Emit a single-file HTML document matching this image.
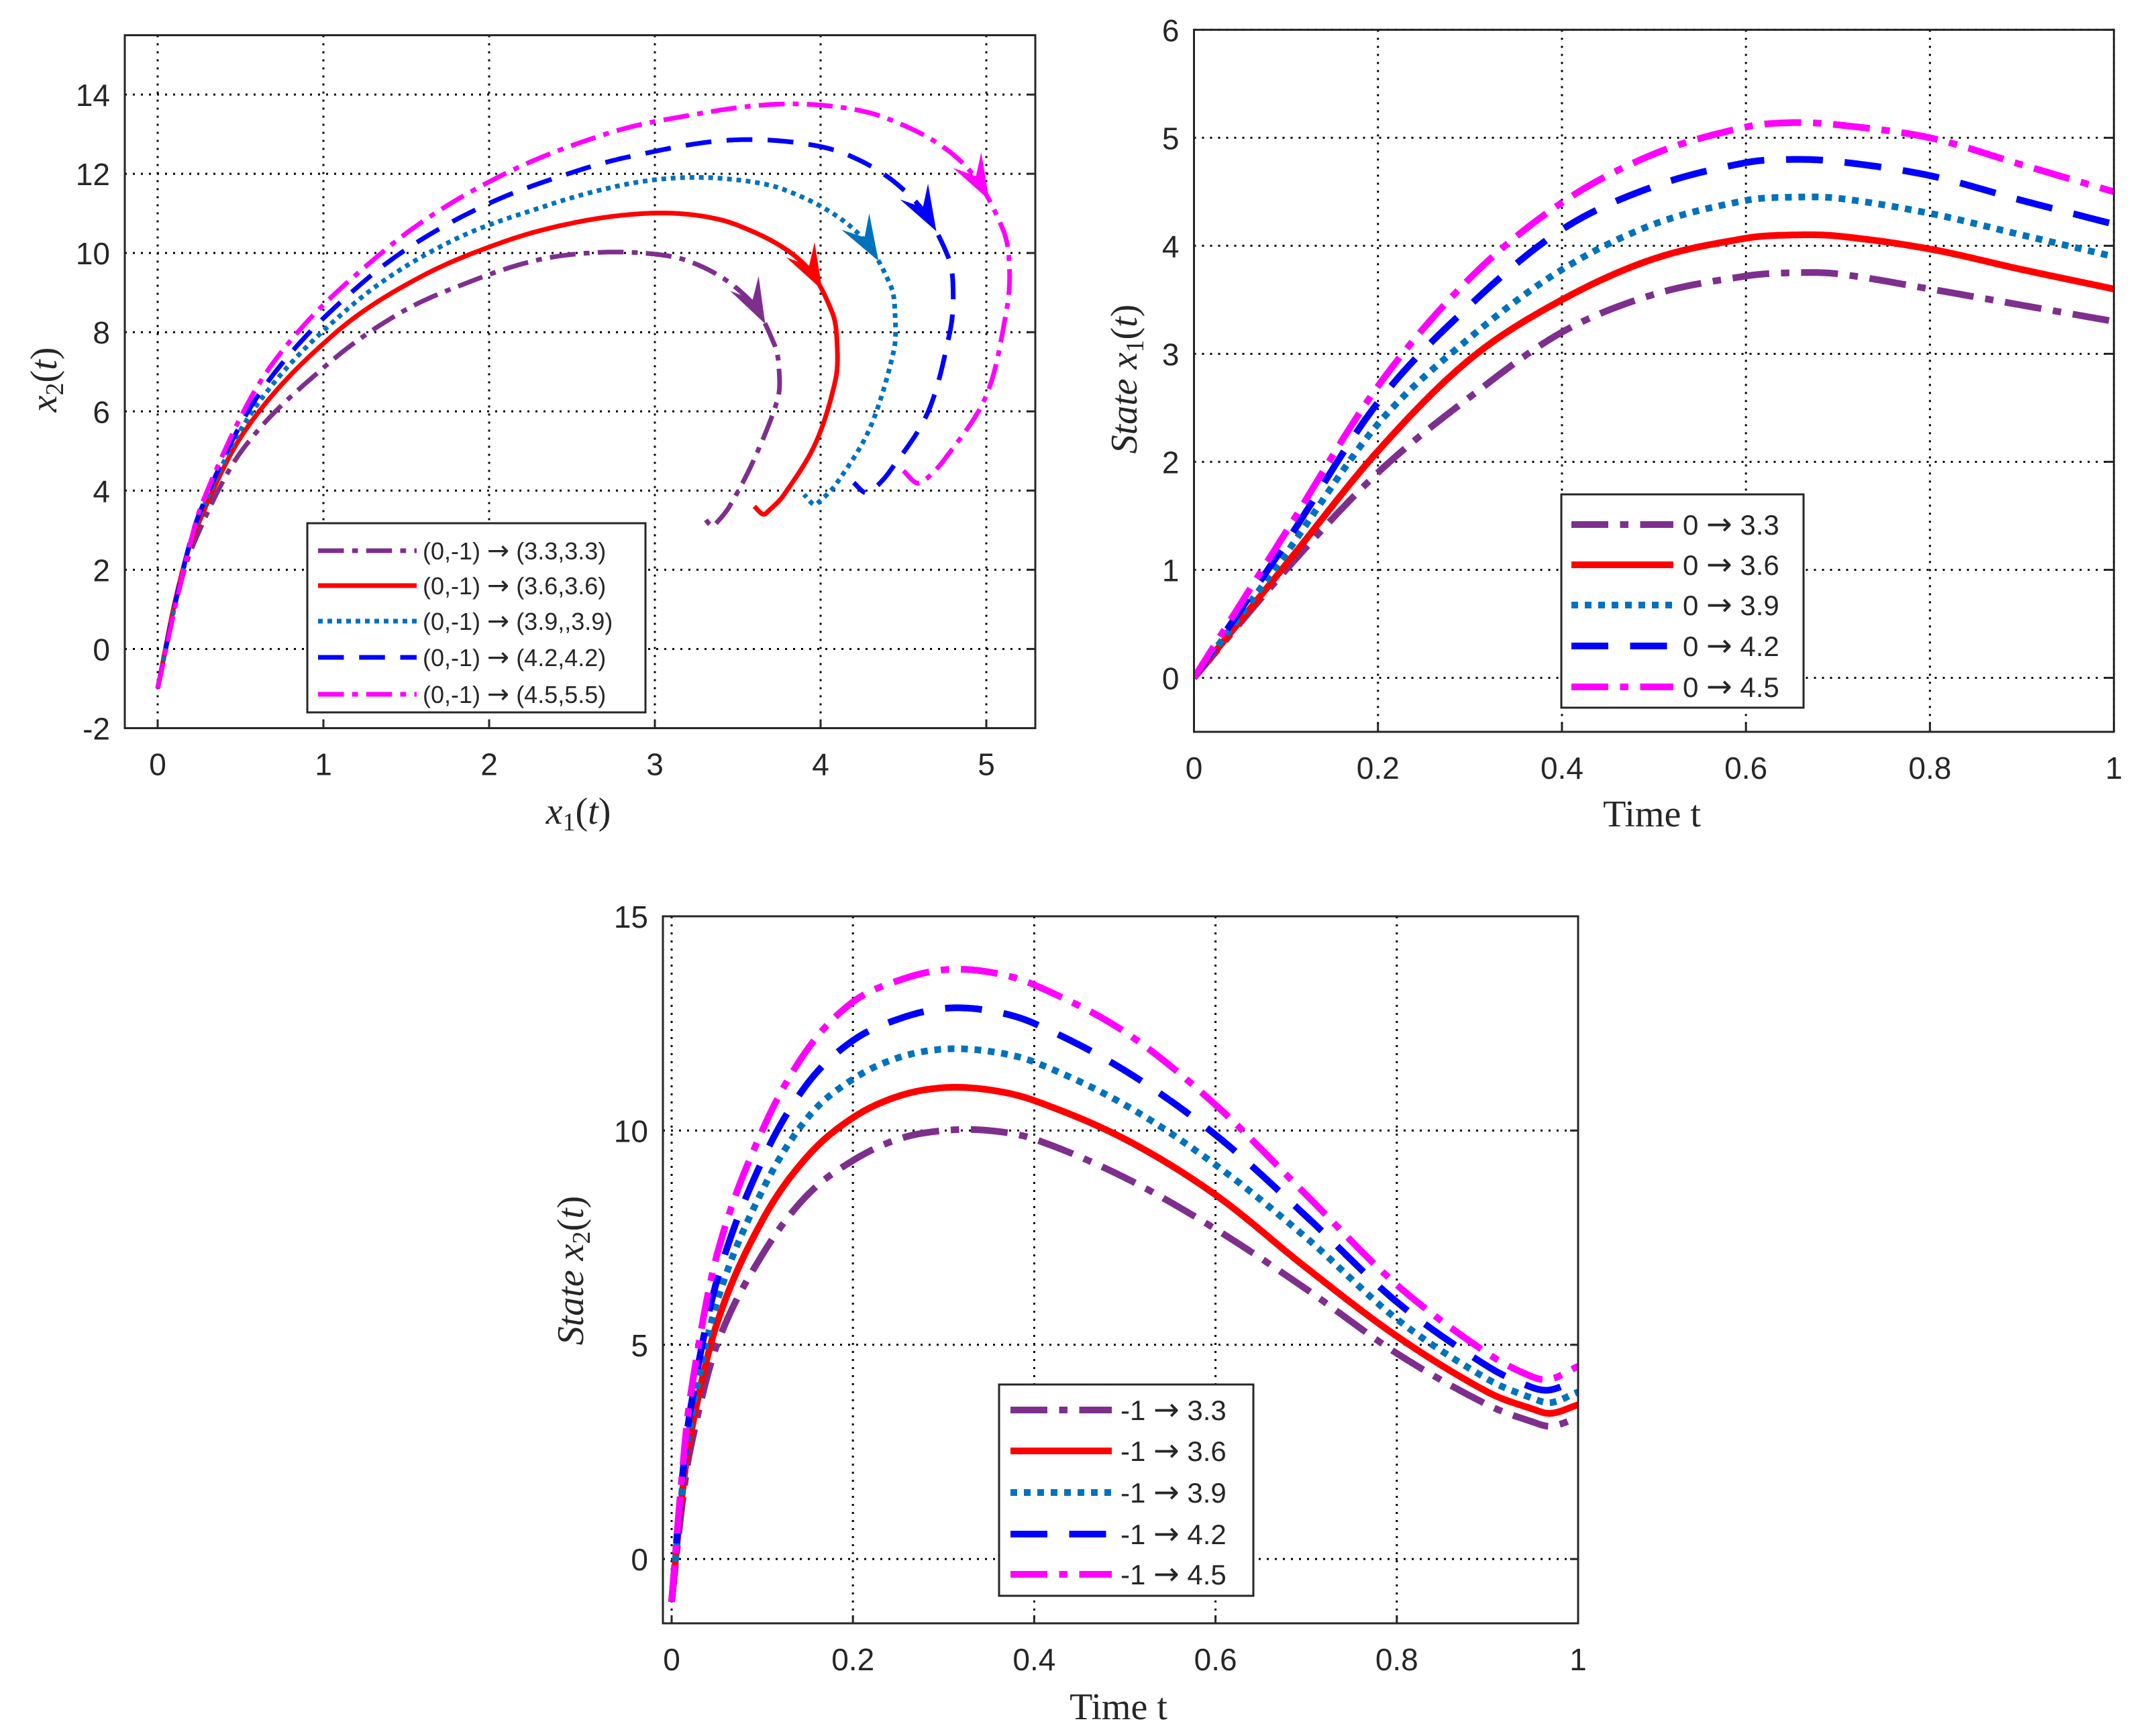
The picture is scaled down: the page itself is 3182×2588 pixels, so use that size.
<!DOCTYPE html>
<html><head><meta charset="utf-8">
<style>
html,body{margin:0;padding:0;background:#fff;}
svg{display:block;}
text{font-family:"Liberation Sans",Arial,sans-serif;fill:#262626;}
.lab{font-family:"Liberation Serif","DejaVu Serif",serif;fill:#262626;}
.arr{font-family:"DejaVu Sans",sans-serif;}
</style></head>
<body>
<svg id="fig" xmlns="http://www.w3.org/2000/svg" width="3182" height="2588" viewBox="0 0 3182 2588"></svg>
<script>
// ---- data ----
const tA = [0,0.1,0.2,0.3,0.4,0.5,0.6,0.65,0.7,0.8,0.9,1];
const x1_33 = [0,1.0,1.9,2.6,3.2,3.55,3.72,3.75,3.74,3.6,3.45,3.3];
const x1_36 = [0,1.05,2.1,2.95,3.5,3.88,4.07,4.1,4.09,3.97,3.78,3.6];
const x1_39 = [0,1.15,2.35,3.15,3.78,4.2,4.42,4.45,4.44,4.3,4.1,3.9];
const x1_42 = [0,1.25,2.55,3.45,4.15,4.55,4.77,4.8,4.78,4.65,4.42,4.2];
const x1_45 = [0,1.35,2.7,3.7,4.4,4.85,5.1,5.14,5.12,5.0,4.75,4.5];
const tB = [0,0.01,0.02,0.05,0.1,0.15,0.2,0.25,0.3,0.35,0.4,0.5,0.6,0.7,0.8,0.9,0.95,0.97,1];
const x2_33 = [-1,1,2.5,5,7.1,8.5,9.3,9.8,10.0,10.0,9.8,8.9,7.7,6.3,4.8,3.6,3.2,3.1,3.3];
const x2_36 = [-1,1.2,2.8,5.5,7.9,9.4,10.3,10.8,11.0,10.95,10.7,9.8,8.5,6.8,5.2,3.9,3.5,3.4,3.6];
const x2_39 = [-1,1.3,3.1,6,8.6,10.3,11.2,11.7,11.9,11.85,11.6,10.6,9.2,7.5,5.6,4.2,3.75,3.65,3.9];
const x2_42 = [-1,1.5,3.4,6.5,9.3,11.1,12.1,12.6,12.85,12.8,12.5,11.4,9.9,8.0,6.0,4.5,4.0,3.95,4.2];
const x2_45 = [-1,1.6,3.7,7.1,10.0,11.9,13.0,13.5,13.75,13.7,13.4,12.3,10.6,8.5,6.4,4.8,4.25,4.2,4.5];
const legend1 = ["(0,-1) \u2192 (3.3,3.3)","(0,-1) \u2192 (3.6,3.6)","(0,-1) \u2192 (3.9,,3.9)","(0,-1) \u2192 (4.2,4.2)","(0,-1) \u2192 (4.5,5.5)"];
const legend2 = ["0 \u2192 3.3","0 \u2192 3.6","0 \u2192 3.9","0 \u2192 4.2","0 \u2192 4.5"];
const legend3 = ["-1 \u2192 3.3","-1 \u2192 3.6","-1 \u2192 3.9","-1 \u2192 4.2","-1 \u2192 4.5"];
const ticks1x = [0,1,2,3,4,5];
const ticks1y = [-2,0,2,4,6,8,10,12,14];
const ticksT = [0,0.2,0.4,0.6,0.8,1];
const ticks2y = [0,1,2,3,4,5,6];
const ticks3y = [0,5,10,15];

const X1 = [x1_33,x1_36,x1_39,x1_42,x1_45];
const X2 = [x2_33,x2_36,x2_39,x2_42,x2_45];
const colors = ["#7E2F8E","#FF0000","#0072BD","#0000FF","#FF00FF"];
const names = ["3-3","3-6","3-9","4-2","4-5"];
function dash(i,w){const s=w/8;
  if(i===0||i===4) return [44*s,14*s,10*s,14*s].join(",");
  if(i===1) return "none";
  if(i===2) return [8*s,8*s].join(",");
  return [44*s,26*s].join(",");}

const NS="http://www.w3.org/2000/svg";
const svg=document.getElementById('fig');
function el(tag,attrs,parent){const e=document.createElementNS(NS,tag);for(const k in attrs)e.setAttribute(k,attrs[k]);(parent||svg).appendChild(e);return e;}

function interp(ts,vs,t){
  let k=0;while(k<ts.length-2&&t>ts[k+1])k++;
  const t0=ts[k],t1=ts[k+1];const u=(t-t0)/(t1-t0);
  const p0=vs[Math.max(k-1,0)],p1=vs[k],p2=vs[k+1],p3=vs[Math.min(k+2,vs.length-1)];
  const h=t1-t0;
  const m1=(k>0)?(p2-p0)/(ts[k+1]-ts[k-1])*h:(p2-p1);
  const m2=(k+2<ts.length)?(p3-p1)/(ts[k+2]-ts[k])*h:(p2-p1);
  const u2=u*u,u3=u2*u;
  return (2*u3-3*u2+1)*p1+(u3-2*u2+u)*m1+(-2*u3+3*u2)*p2+(u3-u2)*m2;
}
const TS=[];for(let i=0;i<=500;i++)TS.push(i/500);

function axes(cfg){
  const g=el('g',{});
  
  
  const sx=v=>cfg.L+(v-cfg.x0)/(cfg.x1-cfg.x0)*(cfg.R-cfg.L);
  const sy=v=>cfg.B-(v-cfg.y0)/(cfg.y1-cfg.y0)*(cfg.B-cfg.T);
  cfg.xt.forEach(v=>{const x=sx(v);
    const l=el('line',{x1:x,x2:x,y1:cfg.T,y2:cfg.B,stroke:'#000','stroke-width':3,'stroke-dasharray':'3,9'},g);
    
    const tk=el('line',{x1:x,x2:x,y1:cfg.B,y2:cfg.B-12,stroke:'#262626','stroke-width':3},g);
    
    const tx=el('text',{x:x,y:cfg.B+70,'font-size':46,'text-anchor':'middle'},g);tx.textContent=String(v);
    });
  cfg.yt.forEach(v=>{const y=sy(v);
    const l=el('line',{x1:cfg.L,x2:cfg.R,y1:y,y2:y,stroke:'#000','stroke-width':3,'stroke-dasharray':'3,9'},g);
    
    const tk=el('line',{x1:cfg.R,x2:cfg.R-12,y1:y,y2:y,stroke:'#262626','stroke-width':3},g);
    
    const tx=el('text',{x:cfg.L-22,y:y+17,'font-size':46,'text-anchor':'end'},g);tx.textContent=String(v);
    });
  const clip='clip-'+cfg.name;
  const cp=el('clipPath',{id:clip},g);el('rect',{x:cfg.L,y:cfg.T,width:cfg.R-cfg.L,height:cfg.B-cfg.T},cp);
  cfg.series.forEach((s,i)=>{
    const d=s.pts.map((p,j)=>(j?'L':'M')+sx(p[0]).toFixed(1)+' '+sy(p[1]).toFixed(1)).join(' ');
    const pa=el('path',{d:d,fill:'none',stroke:colors[i],'stroke-width':cfg.lw,'clip-path':'url(#'+clip+')','stroke-dasharray':dash(i,cfg.lw),'stroke-linejoin':'round'},g);
    
    if(s.arrow){const [a,b]=s.arrow;const ax=sx(b[0]),ay=sy(b[1]),bx=sx(a[0]),by=sy(a[1]);
      const ang=Math.atan2(ay-by,ax-bx);const Lh=68,W=24;
      const p1=[ax-Lh*Math.cos(ang)+W*Math.sin(ang),ay-Lh*Math.sin(ang)-W*Math.cos(ang)];
      const p2=[ax-Lh*Math.cos(ang)-W*Math.sin(ang),ay-Lh*Math.sin(ang)+W*Math.cos(ang)];
      const pm=[ax-0.6*Lh*Math.cos(ang),ay-0.6*Lh*Math.sin(ang)];
      const ar=el('path',{d:`M${ax} ${ay} L${p1[0]} ${p1[1]} L${pm[0]} ${pm[1]} L${p2[0]} ${p2[1]} Z`,fill:colors[i]},g);
      }
  });
  const box=el('rect',{x:cfg.L,y:cfg.T,width:cfg.R-cfg.L,height:cfg.B-cfg.T,fill:'none',stroke:'#262626','stroke-width':3},g);
  
  const lg=el('g',{},g);
  const lb=cfg.leg;
  el('rect',{x:lb.x0,y:lb.y0,width:lb.x1-lb.x0,height:lb.y1-lb.y0,fill:'#fff',stroke:'#262626','stroke-width':3},lg);
  lb.rows.forEach((ry,i)=>{
    const e=el('g',{},lg);
    el('line',{x1:lb.lx0,x2:lb.lx1,y1:ry,y2:ry,stroke:colors[i],'stroke-width':lb.lw,'stroke-dasharray':dash(i,lb.lw)},e);
    const t=el('text',{x:lb.tx,y:ry+lb.fs*0.36,'font-size':lb.fs},e);
    const parts=lb.labels[i].split('\u2192');
    t.appendChild(document.createTextNode(parts[0]));
    const ts=el('tspan',{'class':'arr','font-size':lb.fs*1.1},t);ts.textContent='\u2192';
    t.appendChild(document.createTextNode(parts[1]));});
  return g;
}

const P1=[0,1,2,3,4].map(i=>{
  const pts=TS.map(t=>[interp(tA,X1[i],t),interp(tB,X2[i],t)]);
  const ta=0.55,tb=0.56;
  return {pts:pts,arrow:[[interp(tA,X1[i],ta),interp(tB,X2[i],ta)],[interp(tA,X1[i],tb),interp(tB,X2[i],tb)]]};});
axes({name:'phase-plot',L:186,R:1543,T:52.5,B:1085.5,x0:-(235-186)/247,x1:(1543-235)/247,y0:-2,y1:15.5,
  xt:ticks1x,yt:ticks1y,lw:7,series:P1,
  leg:{x0:458,x1:962,y0:780,y1:1062,rows:[821,873,926,980,1035],lx0:474,lx1:621,tx:630,fs:36,lw:7,labels:legend1}});
axes({name:'x1-time-plot',L:1779.5,R:3150.6,T:44.4,B:1091,x0:0,x1:1,y0:-0.5,y1:6,
  xt:ticksT,yt:ticks2y,lw:10,series:[0,1,2,3,4].map(i=>({pts:TS.map(t=>[t,interp(tA,X1[i],t)])})),
  leg:{x0:2327,x1:2688,y0:737,y1:1055,rows:[782,842,902,963,1024],lx0:2342,lx1:2494,tx:2508,fs:42,lw:10,labels:legend2}});
axes({name:'x2-time-plot',L:988,R:2352,T:1366,B:2420,x0:-(1001-988)/(2352-1001),x1:1,y0:-1.5,y1:15,
  xt:ticksT,yt:ticks3y,lw:10,series:[0,1,2,3,4].map(i=>({pts:TS.map(t=>[t,interp(tB,X2[i],t)])})),
  leg:{x0:1489,x1:1868,y0:2064,y1:2379,rows:[2102,2163,2225,2287,2347],lx0:1506,lx1:1657,tx:1670,fs:42,lw:10,labels:legend3}});

function label(txt,x,y,rot,name){
  const t=el('text',{x:x,y:y,'font-size':56,'text-anchor':'middle','class':'lab',transform:rot?`rotate(-90 ${x} ${y})`:''});
  
  t.innerHTML=txt;return t;}
label('<tspan font-style="italic">x</tspan><tspan font-size="38" dy="10">2</tspan><tspan dy="-10">(</tspan><tspan font-style="italic">t</tspan>)',84,566,true,'phase-y-axis-title');
label('<tspan font-style="italic">x</tspan><tspan font-size="38" dy="10">1</tspan><tspan dy="-10">(</tspan><tspan font-style="italic">t</tspan>)',862,1228,false,'phase-x-axis-title');
label('<tspan font-style="italic">State x</tspan><tspan font-size="38" dy="10">1</tspan><tspan dy="-10">(</tspan><tspan font-style="italic">t</tspan>)',1694,565,true,'x1-y-axis-title');
label('Time t',2462,1232,false,'x1-x-axis-title');
label('<tspan font-style="italic">State x</tspan><tspan font-size="38" dy="10">2</tspan><tspan dy="-10">(</tspan><tspan font-style="italic">t</tspan>)',869,1894,true,'x2-y-axis-title');
label('Time t',1667,2563,false,'x2-x-axis-title');
</script>
</body></html>
